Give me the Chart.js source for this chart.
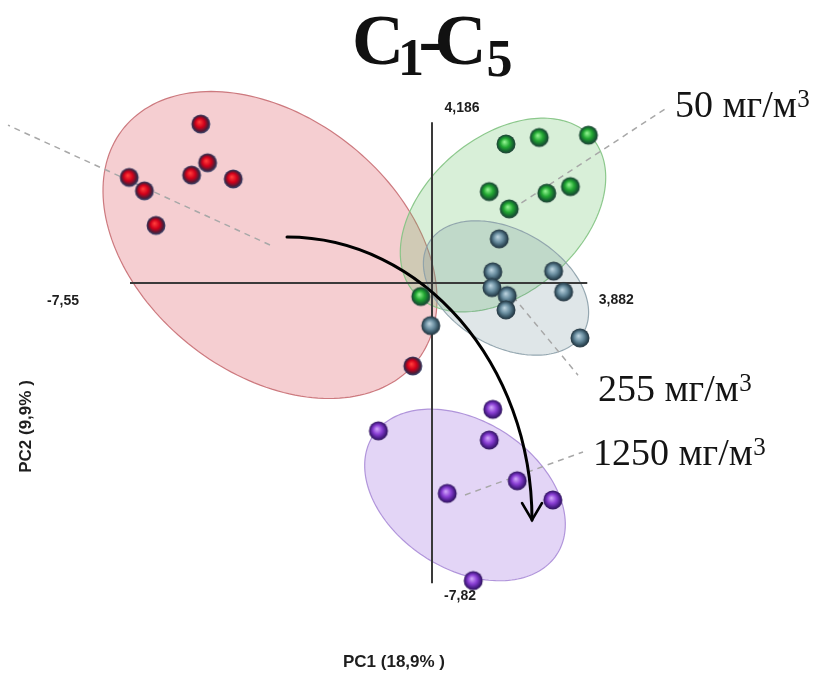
<!DOCTYPE html>
<html><head><meta charset="utf-8">
<script src="https://cdn.jsdelivr.net/npm/chart.js@4.4.1/dist/chart.umd.min.js"></script>
<style>html,body{margin:0;padding:0;background:#fff}#wrap{position:relative;width:827px;height:685px}</style>
</head><body><div id="wrap"><canvas id="c"></canvas></div>
<script>
// ---------- data (PC1, PC2 scores) ----------
const controlX  = [-5.78, -5.61, -6.01, -4.97, -7.57, -7.19, -6.90, -0.48];
const controlY  = [ 4.14,  3.13,  2.81,  2.71,  2.75,  2.40,  1.50, -2.16];
const dose50X   = [ 1.85,  2.68,  3.91,  1.43,  2.87,  3.46,  1.93, -0.28];
const dose50Y   = [ 3.62,  3.79,  3.85,  2.38,  2.34,  2.51,  1.93, -0.35];
const dose255X  = [ 1.68,  1.52,  1.50,  1.88,  1.85,  3.04,  3.29,  3.70, -0.03];
const dose255Y  = [ 1.15,  0.29, -0.12, -0.33, -0.70,  0.31, -0.23, -1.43, -1.11];
const dose1250X = [ 1.52,  1.43, -1.34,  2.13,  3.02,  0.38,  1.03];
const dose1250Y = [-3.29, -4.09, -3.85, -5.15, -5.65, -5.48, -7.75];

const groupLabels = ['', '50 мг/м³', '255 мг/м³', '1250 мг/м³'];
const axisExtent = [-7.55, 3.882, -7.82, 4.186];          // xMin, xMax, yMin, yMax
const axisTickLabels = ['-7,55', '3,882', '-7,82', '4,186'];
const axisTitles = ['PC1 (18,9% )', 'PC2 (9,9% )'];
const titleParts = ['C', '1', '-', 'C', '5'];

// confidence ellipses (data units)
const ellipseCX    = [-4.05, 1.775, 1.85, 0.825];
const ellipseCY    = [ 0.99, 1.77, -0.13, -5.52];
const ellipseA     = [ 4.76, 3.00,  2.26, 2.77];
const ellipseB     = [ 3.28, 1.99,  1.49, 1.90];
const ellipseAngle = [-41.5, 43.7, -32.7, -35.7];

// leader line ends (data units)
const leaderX = [-10.6, 5.9, 3.65, 3.775];
const leaderY = [ 4.11, 4.58, -2.40, -4.40];

// arrow path (cubic bezier, data units)
const arrowX = [-3.625, -0.25, 2.5, 2.5];
const arrowY = [ 1.198,  1.198, -2.109, -6.172];

// ---------- styles / layout ----------
const view = {xMin: -10.8, xMax: 9.875, yMin: -10.469, yMax: 7.370};
const ellipseFill = ['rgba(220,80,90,0.28)', 'rgba(100,190,100,0.25)', 'rgba(110,140,150,0.22)', 'rgba(150,100,220,0.27)'];
const ellipseStroke = ['rgba(200,110,115,0.9)', 'rgba(130,195,130,0.9)', 'rgba(140,160,170,0.9)', 'rgba(170,140,215,0.9)'];
const labelOffset = [[0,0],[7,10],[20,26],[10,13]];

function sphere(c0, c1, c2, rim) {
  const s = 22, cv = document.createElement('canvas');
  cv.width = s; cv.height = s;
  const g = cv.getContext('2d');
  const r = 9.5, cx = 11, cy = 11;
  const gr = g.createRadialGradient(cx - 1.5, cy - 2, 0.5, cx, cy, r);
  gr.addColorStop(0, c0); gr.addColorStop(0.45, c1); gr.addColorStop(0.8, c2); gr.addColorStop(1, rim);
  g.fillStyle = gr; g.beginPath(); g.arc(cx, cy, r, 0, Math.PI * 2); g.fill();
  return cv;
}
const sRed = sphere('#ff3a3a', '#d0001a', '#4a1d38', '#3a4a72');
const sGreen = sphere('#8cf08c', '#22a832', '#156030', '#24423a');
const sBlue = sphere('#b8d0dc', '#6a8ea0', '#34505f', '#22323c');
const sPurple = sphere('#cda0f8', '#8a3fd4', '#4b1d8a', '#2e1458');

const pts = (xs, ys) => xs.map((v, i) => ({x: v, y: ys[i]}));

const annot = {
  id: 'annot',
  beforeDatasetsDraw(chart) {
    const ctx = chart.ctx, xs = chart.scales.x, ys = chart.scales.y;
    const P = (a, b) => [xs.getPixelForValue(a), ys.getPixelForValue(b)];
    ctx.save();
    // ellipses
    for (let i = 0; i < ellipseCX.length; i++) {
      const th = ellipseAngle[i] * Math.PI / 180;
      ctx.beginPath();
      for (let k = 0; k <= 180; k++) {
        const t = k / 180 * Math.PI * 2;
        const dx = ellipseA[i] * Math.cos(t) * Math.cos(th) - ellipseB[i] * Math.sin(t) * Math.sin(th);
        const dy = ellipseA[i] * Math.cos(t) * Math.sin(th) + ellipseB[i] * Math.sin(t) * Math.cos(th);
        const [px, py] = P(ellipseCX[i] + dx, ellipseCY[i] + dy);
        if (k === 0) ctx.moveTo(px, py); else ctx.lineTo(px, py);
      }
      ctx.closePath();
      ctx.fillStyle = ellipseFill[i]; ctx.fill();
      ctx.lineWidth = 1.2; ctx.strokeStyle = ellipseStroke[i]; ctx.stroke();
    }
    // leader lines
    ctx.setLineDash([6, 5]); ctx.lineWidth = 1.5; ctx.strokeStyle = '#a8a8a8';
    for (let i = 0; i < leaderX.length; i++) {
      const [a1, b1] = P(ellipseCX[i], ellipseCY[i]);
      const [a2, b2] = P(leaderX[i], leaderY[i]);
      ctx.beginPath(); ctx.moveTo(a1, b1); ctx.lineTo(a2, b2); ctx.stroke();
    }
    ctx.setLineDash([]);
    // axes
    ctx.strokeStyle = '#3a3a3a'; ctx.lineWidth = 2;
    let [x1, y0] = P(axisExtent[0], 0), [x2] = P(axisExtent[1], 0);
    ctx.beginPath(); ctx.moveTo(x1, y0); ctx.lineTo(x2, y0); ctx.stroke();
    let [x0, yb] = P(0, axisExtent[2]), [, yt] = P(0, axisExtent[3]);
    ctx.beginPath(); ctx.moveTo(x0, yb); ctx.lineTo(x0, yt); ctx.stroke();
    // tick labels at axis ends
    ctx.fillStyle = '#1e1e1e'; ctx.font = 'bold 14px "Liberation Sans", Arial, sans-serif';
    ctx.textAlign = 'center'; ctx.textBaseline = 'middle';
    ctx.fillText(axisTickLabels[0], x1 - 67, y0 + 18);
    ctx.fillText(axisTickLabels[1], x2 + 29, y0 + 17);
    ctx.fillText(axisTickLabels[2], x0 + 28, yb + 13);
    ctx.fillText(axisTickLabels[3], x0 + 30, yt - 14);
    // arrow
    const A = arrowX.map((v, i) => P(v, arrowY[i]));
    ctx.strokeStyle = '#000'; ctx.lineWidth = 3; ctx.lineCap = 'round';
    ctx.beginPath(); ctx.moveTo(A[0][0], A[0][1]);
    ctx.bezierCurveTo(A[1][0], A[1][1], A[2][0], A[2][1], A[3][0], A[3][1]); ctx.stroke();
    const [tx, ty] = A[3];
    ctx.lineWidth = 2.5;
    ctx.beginPath(); ctx.moveTo(tx - 10, ty - 17); ctx.lineTo(tx, ty); ctx.lineTo(tx + 10, ty - 17); ctx.stroke();
    ctx.restore();
  },
  afterDraw(chart) {
    const ctx = chart.ctx, xs = chart.scales.x, ys = chart.scales.y;
    ctx.save();
    ctx.fillStyle = '#111';
    // title C1-C5
    const big = 'bold 72px "Liberation Serif", "Times New Roman", serif';
    const sub = 'bold 52px "Liberation Serif", "Times New Roman", serif';
    const lefts = [355, 402, 420.5, 437.5, 488.5];
    const bases = [64, 75, 64, 64, 76];
    ctx.textBaseline = 'alphabetic'; ctx.textAlign = 'left';
    titleParts.forEach((t, i) => {
      ctx.font = (i === 1 || i === 4) ? sub : big;
      const m = ctx.measureText(t);
      ctx.fillText(t, lefts[i] + m.actualBoundingBoxLeft, bases[i]);
    });
    // group labels (superscript digit drawn raised)
    const lblFont = '38px "Liberation Serif", "Times New Roman", serif';
    const supFont = '25px "Liberation Serif", "Times New Roman", serif';
    ctx.fillStyle = '#141414';
    for (let i = 1; i < groupLabels.length; i++) {
      const px = xs.getPixelForValue(leaderX[i]) + labelOffset[i][0];
      const py = ys.getPixelForValue(leaderY[i]) + labelOffset[i][1];
      const txt = groupLabels[i];
      const main = txt.slice(0, -1), sup = txt.slice(-1) === '³' ? '3' : txt.slice(-1);
      ctx.font = lblFont;
      ctx.fillText(main, px, py);
      const w = ctx.measureText(main).width;
      ctx.font = supFont;
      ctx.fillText(sup, px + w + 0.5, py - 10);
    }
    // axis titles
    ctx.font = 'bold 17px "Liberation Sans", Arial, sans-serif';
    ctx.fillStyle = '#1e1e1e';
    ctx.textAlign = 'center'; ctx.textBaseline = 'middle';
    ctx.fillText(axisTitles[0], 394, 662);
    ctx.translate(26.5, 426.5); ctx.rotate(-Math.PI / 2);
    ctx.fillText(axisTitles[1], 0, 0);
    ctx.restore();
  }
};

new Chart(document.getElementById('c'), {
  type: 'scatter',
  data: {
    datasets: [
      {label: 'control', data: pts(controlX, controlY), pointStyle: sRed},
      {label: groupLabels[1], data: pts(dose50X, dose50Y), pointStyle: sGreen},
      {label: groupLabels[2], data: pts(dose255X, dose255Y), pointStyle: sBlue},
      {label: groupLabels[3], data: pts(dose1250X, dose1250Y), pointStyle: sPurple}
    ]
  },
  options: {
    responsive: true, maintainAspectRatio: false, animation: false, events: [],
    layout: {padding: 0, autoPadding: false},
    plugins: {legend: {display: false}, tooltip: {enabled: false}, title: {display: false}},
    scales: {
      x: {type: 'linear', min: view.xMin, max: view.xMax, display: false},
      y: {type: 'linear', min: view.yMin, max: view.yMax, display: false}
    },
    elements: {point: {radius: 10}}
  },
  plugins: [annot]
});
</script></body></html>
